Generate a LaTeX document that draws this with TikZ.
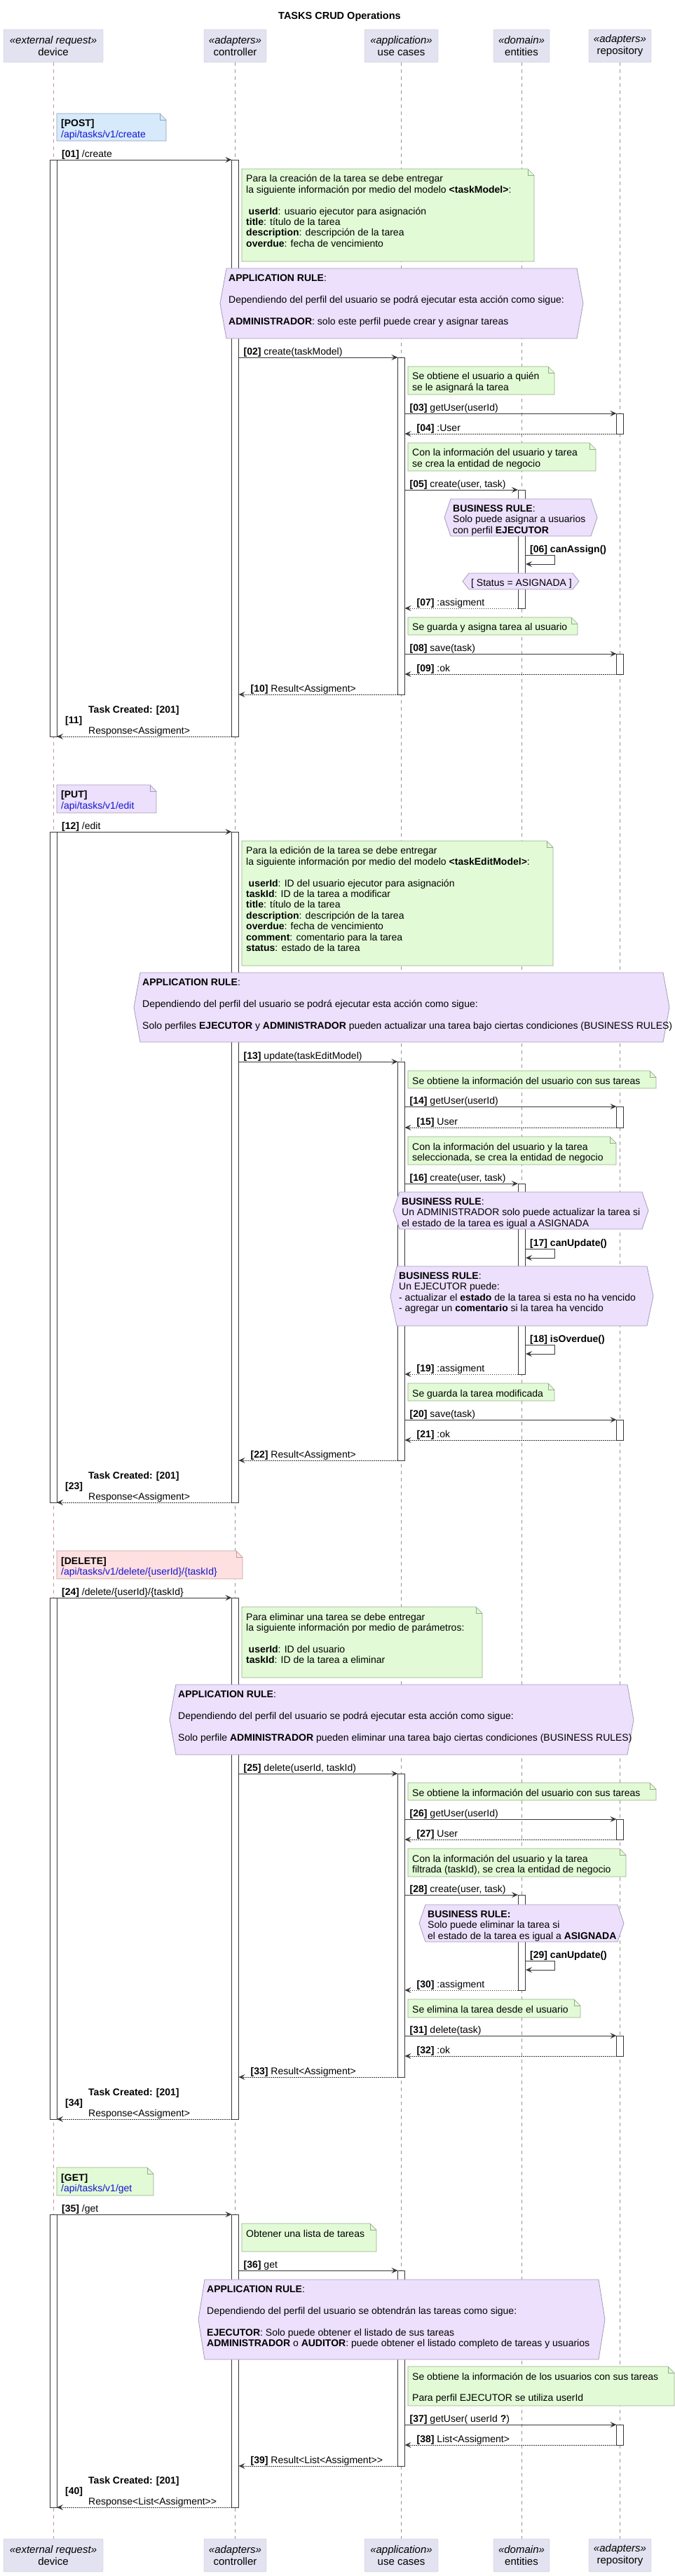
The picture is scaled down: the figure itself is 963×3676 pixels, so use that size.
\documentclass[tikz,border=0pt]{standalone}
\usepackage{fontspec}
\setmainfont{Liberation Sans}
\usetikzlibrary{arrows.meta}

\definecolor{partfill}{RGB}{226,226,240}
\definecolor{partdraw}{RGB}{190,190,206}
\definecolor{greenfill}{RGB}{226,251,214}
\definecolor{greendraw}{RGB}{150,172,140}
\definecolor{bluefill}{RGB}{214,234,252}
\definecolor{bluedraw}{RGB}{140,160,186}
\definecolor{lilacfill}{RGB}{236,224,252}
\definecolor{lilacdraw}{RGB}{165,155,186}
\definecolor{pinkfill}{RGB}{255,224,224}
\definecolor{pinkdraw}{RGB}{186,160,160}
\definecolor{urlblue}{RGB}{20,20,210}
\definecolor{linegray}{RGB}{56,56,56}
\definecolor{lifegray}{RGB}{150,150,150}
\definecolor{lifepink}{RGB}{205,145,155}

\tikzset{
  part/.style={draw=partdraw, fill=partfill, rounded corners=2pt, minimum height=47pt,
    inner sep=0pt, align=center, font=\fontsize{15}{17}\selectfont},
  life/.style={dash pattern=on 5pt off 5pt, line width=0.6pt},
  actbar/.style={draw=linegray, fill=white, line width=0.8pt},
  call/.style={draw=linegray, line width=1pt, -{Stealth[length=9pt,width=8pt,inset=3.5pt]}},
  ret/.style={draw=linegray, line width=1pt, dash pattern=on 1.5pt off 1.5pt,
    -{Stealth[length=9pt,width=8pt,inset=3.5pt]}},
  msglabel/.style={anchor=base west, inner sep=0pt, font=\fontsize{14}{15.5}\selectfont},
  notetext/.style={anchor=north west, inner sep=0pt, align=left, font=\fontsize{14}{15.4}\selectfont},
  hextext/.style={anchor=north west, inner sep=0pt, align=left, font=\fontsize{14}{15.5}\selectfont},
  greennote/.style={draw=greendraw, fill=greenfill, line width=0.7pt},
  bluenote/.style={draw=bluedraw, fill=bluefill, line width=0.7pt},
  lilacnote/.style={draw=lilacdraw, fill=lilacfill, line width=0.7pt},
  pinknote/.style={draw=pinkdraw, fill=pinkfill, line width=0.7pt},
  hexbox/.style={draw=lilacdraw, fill=lilacfill, line width=0.8pt}
}

\newcommand{\foldnote}[7]{%
  \draw[#6] (#2,#3) -- (#4-9,#3) -- (#4,#3+9) -- (#4,#5) -- (#2,#5) -- cycle;
  \draw[#6, fill=none] (#4-9,#3) -- (#4-9,#3+9) -- (#4,#3+9);
  \node[notetext] (#1) at (#2+6,#3+8) {\strut #7};
}
\newcommand{\hexnote}[6]{%
  \draw[hexbox] (#2,{(#3+#5)/2}) -- (#2+9,#3) -- (#4-9,#3) -- (#4,{(#3+#5)/2})
    -- (#4-9,#5) -- (#2+9,#5) -- cycle;
  \node[hextext] (#1) at (#2+12,#3+7) {\strut #6};
}
\newcommand{\callmsg}[5]{%
  \draw[call] (#3 |- 0,#2) -- (#4 |- 0,#2);
  \path (#3 |- 0,#2) ++(7,-4) node[msglabel] (#1) {#5};
}
\newcommand{\retmsg}[5]{%
  \draw[ret] (#3 |- 0,#2) -- (#4 |- 0,#2);
  \path (#4 |- 0,#2) ++(17,-4) node[msglabel] (#1) {#5};
}
\newcommand{\selfmsg}[3]{%
  \draw[call] (ent-r |- 0,#2) -- ++(42,0) -- ++(0,13) -- ++(-41,0);
  \path (ent-r |- 0,#2) ++(7,-4) node[msglabel] (#1) {#3};
}
\newcommand{\respmsg}[4]{%
  \draw[ret] (ctl-l |- 0,#2) -- (dev-r |- 0,#2);
  \node[msglabel] (#1-a) at (126,#2-34) {\textbf{Task Created: [201]}};
  \node[msglabel] (#1-b) at (93,#2-19) {\textbf{[#3]}};
  \node[msglabel] (#1-c) at (126,#2-3.5) {#4};
}

\begin{document}
\begin{tikzpicture}[x=1pt,y=-1pt]
\useasboundingbox (0,0) rectangle (963,3676);
\node[font=\fontsize{14.5}{17}\selectfont\bfseries] (title) at (484.5,24) {TASKS CRUD Operations};

\foreach \pid/\px/\pw/\pst/\pname/\pcol in {dev/76/142/external request/device/lifepink,
    ctl/335.5/89/adapters/controller/lifegray, uc/572.5/105/application/use cases/lifegray,
    ent/744/80/domain/entities/lifegray, rep/884.5/89/adapters/repository/lifegray}{
  \node[part, minimum width=\pw] (p-\pid) at (\px,65.5) {\textit{«\pst»}\\\pname};
  \node[part, minimum width=\pw] (p-\pid-b) at (\px,3646.5) {\textit{«\pst»}\\\pname};
  \draw[life, draw=\pcol] (p-\pid.south) -- (p-\pid-b.north);
  \coordinate (\pid-l) at (\px-5,0);
  \coordinate (\pid-r) at (\px+5,0);
}

\foreach \w/\a/\b in {dev/228/1051, ctl/228/1051, uc/510/991, rep/590/619, ent/699/868, rep/933/962,
    dev/1187/2144, ctl/1187/2144, uc/1515/2084, rep/1579/1609, ent/1689/1961, rep/2026/2055,
    dev/2280/3024, ctl/2280/3024, uc/2531/2964, rep/2596/2625, ent/2704/2840, rep/2905/2934,
    dev/3160/3578, ctl/3160/3578, uc/3240/3519, rep/3460/3489}
  \draw[actbar] (\w-l |- 0,\a) rectangle (\w-r |- 0,\b);

\foldnote{post}{81}{162}{237}{201}{bluenote}{\textbf{[POST]}\\\textcolor{urlblue}{/api/tasks/v1/create}}
\callmsg{m01}{228}{dev-r}{ctl-l}{\textbf{[01]} /create}
\foldnote{n01}{345}{241}{762}{373}{greennote}{Para la creación de la tarea se debe entregar\\
  la siguiente información por medio del modelo \textbf{<taskModel>}:\\\mbox{}\\
  \kern3.5pt\textbf{userId}: usuario ejecutor para asignación\\
  \textbf{title}: título de la tarea\\
  \textbf{description}: descripción de la tarea\\
  \textbf{overdue}: fecha de vencimiento}
\hexnote{r01}{314}{383}{832}{483}{\textbf{APPLICATION RULE}:\\\mbox{}\\
  Dependiendo del perfil del usuario se podrá ejecutar esta acción como sigue:\\\mbox{}\\
  \textbf{ADMINISTRADOR}: solo este perfil puede crear y asignar tareas}
\callmsg{m02}{510}{ctl-r}{uc-l}{\textbf{[02]} create(taskModel)}
\foldnote{n02}{582}{523}{791}{563}{greennote}{Se obtiene el usuario a quién\\se le asignará la tarea}
\callmsg{m03}{590}{uc-r}{rep-l}{\textbf{[03]} getUser(userId)}
\retmsg{m04}{619}{rep-l}{uc-r}{\textbf{[04]} :User}
\foldnote{n03}{582}{632}{850}{672}{greennote}{Con la información del usuario y tarea\\se crea la entidad de negocio}
\callmsg{m05}{699}{uc-r}{ent-l}{\textbf{[05]} create(user, task)}
\hexnote{b01}{634}{712}{852}{765}{\textbf{BUSINESS RULE}:\\Solo puede asignar a usuarios\\con perfil \textbf{EJECUTOR}}
\selfmsg{m06}{792}{\textbf{[06] canAssign()}}
\hexnote{s01}{660}{818}{826}{841}{[ Status = ASIGNADA ]}
\retmsg{m07}{868}{ent-l}{uc-r}{\textbf{[07]} :assigment}
\foldnote{n04}{582}{881}{824}{906}{greennote}{Se guarda y asigna tarea al usuario}
\callmsg{m08}{933}{uc-r}{rep-l}{\textbf{[08]} save(task)}
\retmsg{m09}{962}{rep-l}{uc-r}{\textbf{[09]} :ok}
\retmsg{m10}{991}{uc-l}{ctl-r}{\textbf{[10]} Result<Assigment>}
\respmsg{m11}{1051}{11}{Response<Assigment>}

\foldnote{put}{81}{1120}{223}{1160}{lilacnote}{\textbf{[PUT]}\\\textcolor{urlblue}{/api/tasks/v1/edit}}
\callmsg{m12}{1187}{dev-r}{ctl-l}{\textbf{[12]} /edit}
\foldnote{n05}{345}{1200}{789}{1378}{greennote}{Para la edición de la tarea se debe entregar\\
  la siguiente información por medio del modelo \textbf{<taskEditModel>}:\\\mbox{}\\
  \kern3.5pt\textbf{userId}: ID del usuario ejecutor para asignación\\
  \textbf{taskId}: ID de la tarea a modificar\\
  \textbf{title}: título de la tarea\\
  \textbf{description}: descripción de la tarea\\
  \textbf{overdue}: fecha de vencimiento\\
  \textbf{comment}: comentario para la tarea\\
  \textbf{status}: estado de la tarea}
\hexnote{r02}{191}{1388}{955}{1487}{\textbf{APPLICATION RULE}:\\\mbox{}\\
  Dependiendo del perfil del usuario se podrá ejecutar esta acción como sigue:\\\mbox{}\\
  Solo perfiles \textbf{EJECUTOR} y \textbf{ADMINISTRADOR} pueden actualizar una tarea bajo ciertas condiciones (BUSINESS RULES)}
\callmsg{m13}{1515}{ctl-r}{uc-l}{\textbf{[13]} update(taskEditModel)}
\foldnote{n06}{582}{1528}{936}{1553}{greennote}{Se obtiene la información del usuario con sus tareas}
\callmsg{m14}{1579}{uc-r}{rep-l}{\textbf{[14]} getUser(userId)}
\retmsg{m15}{1609}{rep-l}{uc-r}{\textbf{[15]} User}
\foldnote{n07}{582}{1622}{879}{1662}{greennote}{Con la información del usuario y la tarea\\seleccionada, se crea la entidad de negocio}
\callmsg{m16}{1689}{uc-r}{ent-l}{\textbf{[16]} create(user, task)}
\hexnote{b02}{561}{1701}{925}{1754}{\textbf{BUSINESS RULE}:\\Un ADMINISTRADOR solo puede actualizar la tarea si\\el estado de la tarea es igual a ASIGNADA}
\selfmsg{m17}{1782}{\textbf{[17] canUpdate()}}
\hexnote{b03}{557}{1807}{932}{1892}{\textbf{BUSINESS RULE}:\\Un EJECUTOR puede:\\
  - actualizar el \textbf{estado} de la tarea si esta no ha vencido\\
  - agregar un \textbf{comentario} si la tarea ha vencido}
\selfmsg{m18}{1919}{\textbf{[18] isOverdue()}}
\retmsg{m19}{1961}{ent-l}{uc-r}{\textbf{[19]} :assigment}
\foldnote{n08}{582}{1974}{791}{1999}{greennote}{Se guarda la tarea modificada}
\callmsg{m20}{2026}{uc-r}{rep-l}{\textbf{[20]} save(task)}
\retmsg{m21}{2055}{rep-l}{uc-r}{\textbf{[21]} :ok}
\retmsg{m22}{2084}{uc-l}{ctl-r}{\textbf{[22]} Result<Assigment>}
\respmsg{m23}{2144}{23}{Response<Assigment>}

\foldnote{del}{81}{2213}{346}{2253}{pinknote}{\textbf{[DELETE]}\\\textcolor{urlblue}{/api/tasks/v1/delete/\{userId\}/\{taskId\}}}
\callmsg{m24}{2280}{dev-r}{ctl-l}{\textbf{[24]} /delete/\{userId\}/\{taskId\}}
\foldnote{n09}{345}{2293}{688}{2394}{greennote}{Para eliminar una tarea se debe entregar\\
  la siguiente información por medio de parámetros:\\\mbox{}\\
  \kern3.5pt\textbf{userId}: ID del usuario\\
  \textbf{taskId}: ID de la tarea a eliminar}
\hexnote{r03}{242}{2404}{904}{2504}{\textbf{APPLICATION RULE}:\\\mbox{}\\
  Dependiendo del perfil del usuario se podrá ejecutar esta acción como sigue:\\\mbox{}\\
  Solo perfile \textbf{ADMINISTRADOR} pueden eliminar una tarea bajo ciertas condiciones (BUSINESS RULES)}
\callmsg{m25}{2531}{ctl-r}{uc-l}{\textbf{[25]} delete(userId, taskId)}
\foldnote{n10}{582}{2544}{936}{2569}{greennote}{Se obtiene la información del usuario con sus tareas}
\callmsg{m26}{2596}{uc-r}{rep-l}{\textbf{[26]} getUser(userId)}
\retmsg{m27}{2625}{rep-l}{uc-r}{\textbf{[27]} User}
\foldnote{n11}{582}{2638}{893}{2678}{greennote}{Con la información del usuario y la tarea\\filtrada (taskId), se crea la entidad de negocio}
\callmsg{m28}{2704}{uc-r}{ent-l}{\textbf{[28]} create(user, task)}
\hexnote{b04}{598}{2718}{890}{2771}{\textbf{BUSINESS RULE:}\\Solo puede eliminar la tarea si\\el estado de la tarea es igual a \textbf{ASIGNADA}}
\selfmsg{m29}{2798}{\textbf{[29] canUpdate()}}
\retmsg{m30}{2840}{ent-l}{uc-r}{\textbf{[30]} :assigment}
\foldnote{n12}{582}{2853}{828}{2879}{greennote}{Se elimina la tarea desde el usuario}
\callmsg{m31}{2905}{uc-r}{rep-l}{\textbf{[31]} delete(task)}
\retmsg{m32}{2934}{rep-l}{uc-r}{\textbf{[32]} :ok}
\retmsg{m33}{2964}{uc-l}{ctl-r}{\textbf{[33]} Result<Assigment>}
\respmsg{m34}{3024}{34}{Response<Assigment>}

\foldnote{get}{81}{3093}{219}{3133}{greennote}{\textbf{[GET]}\\\textcolor{urlblue}{/api/tasks/v1/get}}
\callmsg{m35}{3160}{dev-r}{ctl-l}{\textbf{[35]} /get}
\foldnote{n13}{345}{3173}{537}{3213}{greennote}{Obtener una lista de tareas}
\callmsg{m36}{3240}{ctl-r}{uc-l}{\textbf{[36]} get}
\hexnote{r04}{283}{3253}{863}{3367}{\textbf{APPLICATION RULE}:\\\mbox{}\\
  Dependiendo del perfil del usuario se obtendrán las tareas como sigue:\\\mbox{}\\
  \textbf{EJECUTOR}: Solo puede obtener el listado de sus tareas\\
  \textbf{ADMINISTRADOR} o \textbf{AUDITOR}: puede obtener el listado completo de tareas y usuarios}
\foldnote{n14}{582}{3377}{962}{3433}{greennote}{Se obtiene la información de los usuarios con sus tareas\\\mbox{}\\
  Para perfil EJECUTOR se utiliza userId}
\callmsg{m37}{3460}{uc-r}{rep-l}{\textbf{[37]} getUser( userId \textbf{?})}
\retmsg{m38}{3489}{rep-l}{uc-r}{\textbf{[38]} List<Assigment>}
\retmsg{m39}{3519}{uc-l}{ctl-r}{\textbf{[39]} Result<List<Assigment>{}>}
\respmsg{m40}{3578}{40}{Response<List<Assigment>{}>}
\end{tikzpicture}
\end{document}
